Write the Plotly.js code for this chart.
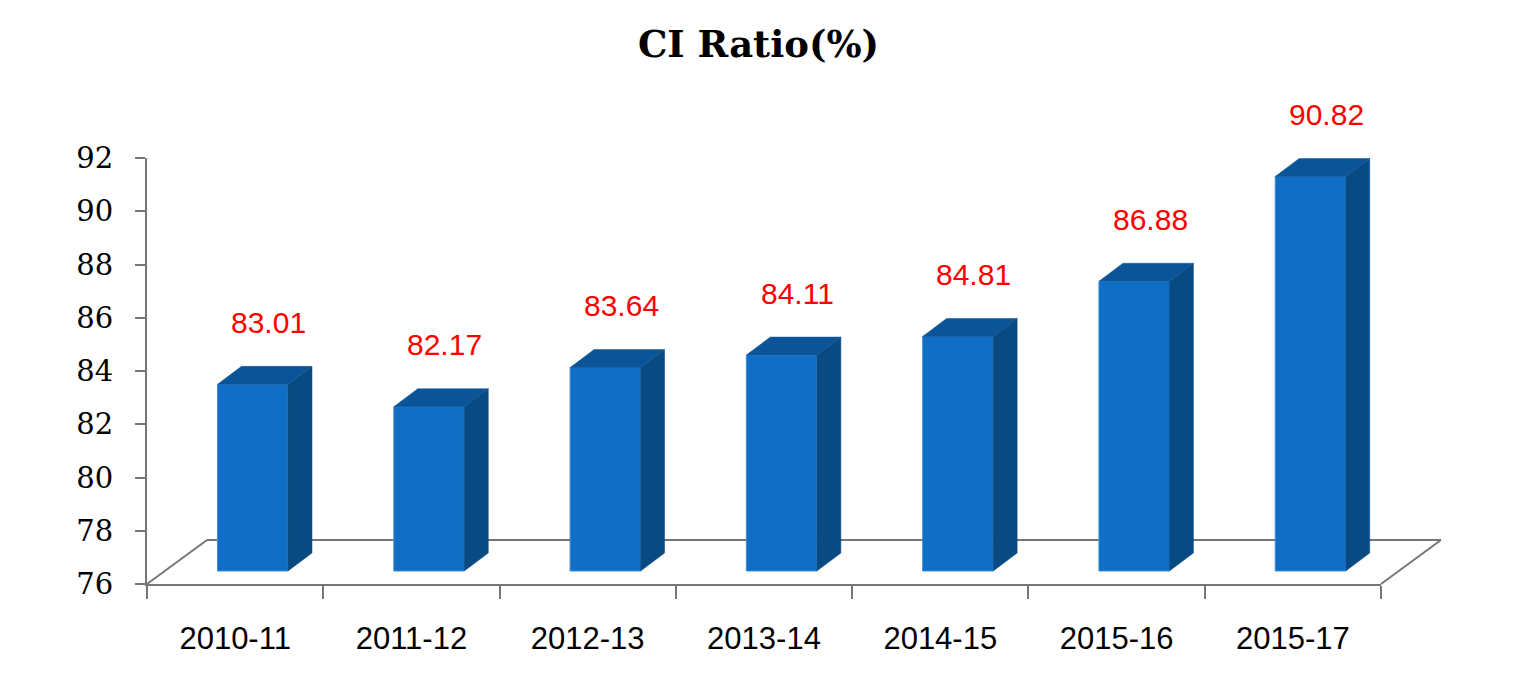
<!DOCTYPE html>
<html>
<head>
<meta charset="utf-8">
<script src="https://cdn.plot.ly/plotly-3.0.1.min.js"></script>
<style>
  html, body { margin: 0; padding: 0; background: #fff; }
  #chart { width: 1517px; height: 688px; }
</style>
</head>
<body>
<div id="chart"></div>
<script>
// data
const years = ['2010-11', '2011-12', '2012-13', '2013-14', '2014-15', '2015-16', '2015-17'];
const ciRatio = [83.01, 82.17, 83.64, 84.11, 84.81, 86.88, 90.82];
const yTicks = [76, 78, 80, 82, 84, 86, 88, 90, 92];

// fake 3d depth, in axis units
const depthX = 0.136;
const depthY = 0.676;
const baseVal = 76;
const idx = years.map((c, i) => i);

// front faces
const frontFaces = {
    type: 'bar',
    x: idx,
    y: ciRatio.map(v => v - baseVal),
    base: baseVal,
    width: 0.4,
    offset: -0.1,
    xaxis: 'x2',
    yaxis: 'y2',
    marker: { color: '#106EC5', line: { color: '#3C8FD8', width: 1 } },
    hoverinfo: 'skip'
};

// side + top faces, one polygon per bar, split by nulls
let sideX = [], sideY = [], topX = [], topY = [];
idx.forEach((i) => {
    const v = ciRatio[i];
    const r = i + 0.3, l = i - 0.1;
    sideX.push(r, r + depthX, r + depthX, r, r, null);
    sideY.push(baseVal, baseVal + depthY, v + depthY, v, baseVal, null);
    topX.push(l, r, r + depthX, l + depthX, l, null);
    topY.push(v, v, v + depthY, v + depthY, v, null);
});

const sideFaces = {
    type: 'scatter', mode: 'lines', x: sideX, y: sideY,
    xaxis: 'x2', yaxis: 'y2',
    fill: 'toself', fillcolor: '#0A4A82',
    line: { color: '#0A4A82', width: 0.5 },
    hoverinfo: 'skip'
};

const topFaces = {
    type: 'scatter', mode: 'lines', x: topX, y: topY,
    xaxis: 'x2', yaxis: 'y2',
    fill: 'toself', fillcolor: '#0B5497',
    line: { color: '#0B5497', width: 0.5 },
    hoverinfo: 'skip'
};

// dummy trace so the category axis gets its labels
const catTrace = {
    type: 'scatter', mode: 'markers', x: years, y: ciRatio,
    marker: { opacity: 0 }, hoverinfo: 'skip'
};

const labels = ciRatio.map((v, i) => ({
    x: i + 0.19, y: v + depthY, xref: 'x2', yref: 'y2',
    text: v.toFixed(2), showarrow: false,
    yanchor: 'middle', yshift: 44,
    font: { family: 'Liberation Sans, Arial', size: 30, color: '#FF0000' }
}));

// floor outline (paper units), 60px right / 44px up
const fx = 60 / 1234, fy = 44 / 426;
const grey = { color: '#767676', width: 2 };
const floor = [
    { type: 'line', xref: 'paper', yref: 'paper', x0: fx, y0: fy, x1: 1 + fx, y1: fy, line: grey, layer: 'below' },
    { type: 'line', xref: 'paper', yref: 'paper', x0: 0, y0: 0, x1: fx, y1: fy, line: grey, layer: 'below' },
    { type: 'line', xref: 'paper', yref: 'paper', x0: 1, y0: 0, x1: 1 + fx, y1: fy, line: grey, layer: 'below' }
];

// bars sit 13px above the front floor edge
const lift = 13 / (426 / 16);

const layout = {
    width: 1517,
    height: 688,
    margin: { l: 147, r: 136, t: 158, b: 104 },
    paper_bgcolor: '#fff',
    plot_bgcolor: 'rgba(0,0,0,0)',
    showlegend: false,
    title: {
        text: '<b>CI Ratio(%)</b>',
        font: { family: 'DejaVu Serif, Liberation Serif, serif', size: 37, color: '#000' },
        x: 0.5, xref: 'container', xanchor: 'center',
        y: 1 - 44 / 688, yref: 'container', yanchor: 'middle'
    },
    xaxis: {
        type: 'category',
        range: [-0.5, 6.5],
        tickson: 'boundaries',
        ticks: 'outside', ticklen: 13, tickwidth: 2, tickcolor: '#767676',
        showline: true, linecolor: '#767676', linewidth: 2,
        showgrid: false, zeroline: false,
        ticklabelstandoff: 26,
        tickfont: { family: 'Liberation Sans, Arial', size: 31, color: '#000' },
        fixedrange: true
    },
    yaxis: {
        range: [76, 92],
        tickvals: yTicks,
        ticks: 'outside', ticklen: 10, tickwidth: 2, tickcolor: '#767676',
        showline: true, linecolor: '#767676', linewidth: 2,
        showgrid: false, zeroline: false,
        ticklabelstandoff: 16,
        tickfont: { family: 'DejaVu Serif, Liberation Serif, serif', size: 29, color: '#000' },
        fixedrange: true
    },
    xaxis2: {
        overlaying: 'x', range: [-0.5, 6.5], visible: false, fixedrange: true
    },
    yaxis2: {
        overlaying: 'y', range: [76 - lift, 92 - lift], visible: false, fixedrange: true
    },
    shapes: floor,
    annotations: labels
};

Plotly.newPlot('chart', [catTrace, frontFaces, sideFaces, topFaces], layout, { displayModeBar: false, staticPlot: true });
</script>
</body>
</html>
